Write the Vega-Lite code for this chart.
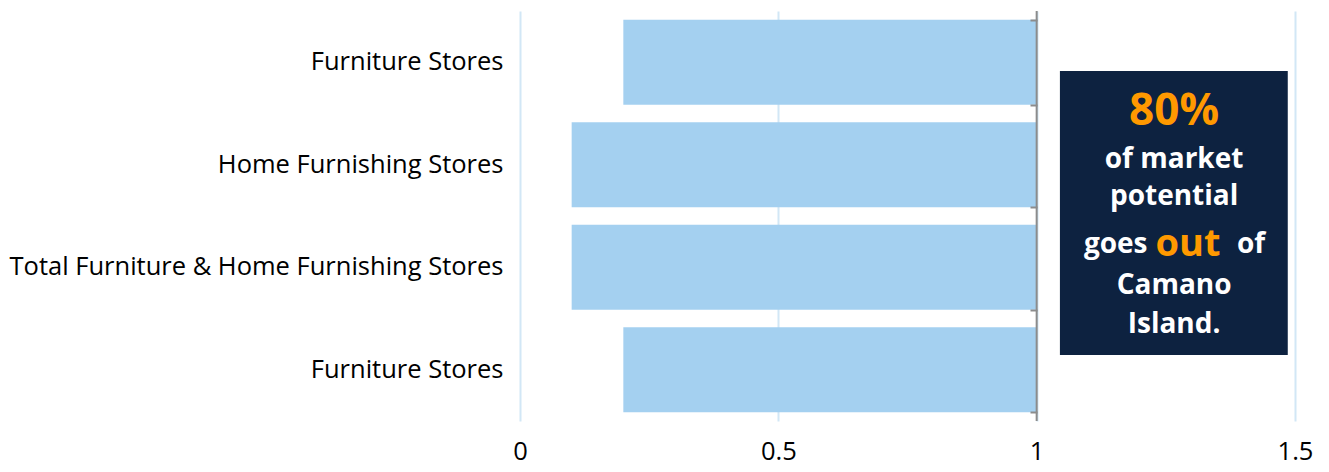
{
  "$schema": "https://vega.github.io/schema/vega-lite/v6.json",
  "width": 775,
  "height": 410,
  "autosize": {"type": "none"},
  "padding": {"left": 520, "top": 11, "right": 34, "bottom": 51},
  "config": {"view": {"stroke": null}, "font": "Open Sans"},
  "datasets": {
    "stores": [
      {"row": "r1", "name": "Furniture Stores", "start": 0.2, "end": 1},
      {"row": "r2", "name": "Home Furnishing Stores", "start": 0.1, "end": 1},
      {"row": "r3", "name": "Total Furniture & Home Furnishing Stores", "start": 0.1, "end": 1},
      {"row": "r4", "name": "Furniture Stores", "start": 0.2, "end": 1}
    ],
    "whiteText": [
      {"t": "of market", "x": 1.266, "y": 1.454},
      {"t": "potential", "x": 1.266, "y": 1.815},
      {"t": "goes", "x": 1.153, "y": 2.283},
      {"t": "of", "x": 1.415, "y": 2.283},
      {"t": "Camano", "x": 1.266, "y": 2.683},
      {"t": "Island.", "x": 1.266, "y": 3.063}
    ]
  },
  "resolve": {"scale": {"y": "independent"}, "axis": {"y": "independent"}},
  "layer": [
    {
      "data": {"name": "stores"},
      "mark": {"type": "bar", "color": "#a4d0f0"},
      "encoding": {
        "y": {
          "field": "row", "type": "nominal", "sort": null,
          "scale": {"paddingInner": 0.17, "paddingOuter": 0.085},
          "axis": {
            "title": null,
            "labelExpr": "{'r1':'Furniture Stores','r2':'Home Furnishing Stores','r3':'Total Furniture & Home Furnishing Stores','r4':'Furniture Stores'}[datum.value]",
            "ticks": false, "domain": false, "grid": false, "labelLimit": 700,
            "labelFontSize": 25.5, "labelPadding": 17, "labelColor": "#000000"
          }
        },
        "x": {
          "field": "start", "type": "quantitative",
          "scale": {"domain": [0, 1.5], "nice": false, "zero": false},
          "axis": {
            "title": null, "values": [0, 0.5, 1, 1.5], "format": "~g",
            "grid": true, "gridColor": "#d2e7f6", "gridWidth": 2,
            "domain": false, "ticks": false,
            "labelFontSize": 25.5, "labelColor": "#000000", "labelPadding": 18, "labelFlush": false
          }
        },
        "x2": {"field": "end"}
      }
    },
    {
      "data": {"name": "stores"},
      "mark": {"type": "bar", "opacity": 0},
      "encoding": {
        "y": {
          "field": "row", "type": "nominal", "sort": null,
          "scale": {"paddingInner": 0.17, "paddingOuter": 0.085},
          "axis": {
            "orient": "right", "offset": -265, "title": null, "labels": false,
            "domain": false,
            "ticks": true, "tickColor": "#8c8c8c", "tickWidth": 2, "tickSize": 7,
            "tickBand": "extent", "grid": false, "zindex": 1
          }
        },
        "x": {"field": "start", "type": "quantitative", "scale": {"domain": [0, 1.5], "nice": false, "zero": false}},
        "x2": {"field": "end"}
      }
    },
    {
      "mark": {"type": "rule", "color": "#8c8c8c", "strokeWidth": 2},
      "data": {"values": [{}]},
      "encoding": {
        "x": {"datum": 1, "type": "quantitative", "scale": {"domain": [0, 1.5], "nice": false, "zero": false}}
      }
    },
    {
      "layer": [
        {
          "data": {"values": [{}]},
          "mark": {"type": "rect", "color": "#0d2240"},
          "encoding": {
            "x": {"datum": 1.045, "type": "quantitative", "scale": {"domain": [0, 1.5], "nice": false, "zero": false}},
            "x2": {"datum": 1.486},
            "y": {"datum": 0.585, "type": "quantitative", "scale": {"domain": [0, 4], "reverse": true}, "axis": null},
            "y2": {"datum": 3.356}
          }
        },
        {
          "data": {"values": [{"t": "80%", "x": 1.266, "y": 0.985}]},
          "mark": {"type": "text", "color": "#ff9900", "fontSize": 44, "fontWeight": "bold", "baseline": "middle", "align": "center"},
          "encoding": {
            "text": {"field": "t"},
            "x": {"field": "x", "type": "quantitative", "scale": {"domain": [0, 1.5], "nice": false, "zero": false}},
            "y": {"field": "y", "type": "quantitative", "scale": {"domain": [0, 4], "reverse": true}, "axis": null}
          }
        },
        {
          "data": {"values": [{"t": "out", "x": 1.293, "y": 2.283}]},
          "mark": {"type": "text", "color": "#ff9900", "fontSize": 38, "fontWeight": "bold", "baseline": "middle", "align": "center"},
          "encoding": {
            "text": {"field": "t"},
            "x": {"field": "x", "type": "quantitative", "scale": {"domain": [0, 1.5], "nice": false, "zero": false}},
            "y": {"field": "y", "type": "quantitative", "scale": {"domain": [0, 4], "reverse": true}, "axis": null}
          }
        },
        {
          "data": {"name": "whiteText"},
          "mark": {"type": "text", "color": "#ffffff", "fontSize": 28, "fontWeight": "bold", "baseline": "middle", "align": "center"},
          "encoding": {
            "text": {"field": "t"},
            "x": {"field": "x", "type": "quantitative", "scale": {"domain": [0, 1.5], "nice": false, "zero": false}},
            "y": {"field": "y", "type": "quantitative", "scale": {"domain": [0, 4], "reverse": true}, "axis": null}
          }
        }
      ]
    }
  ]
}
